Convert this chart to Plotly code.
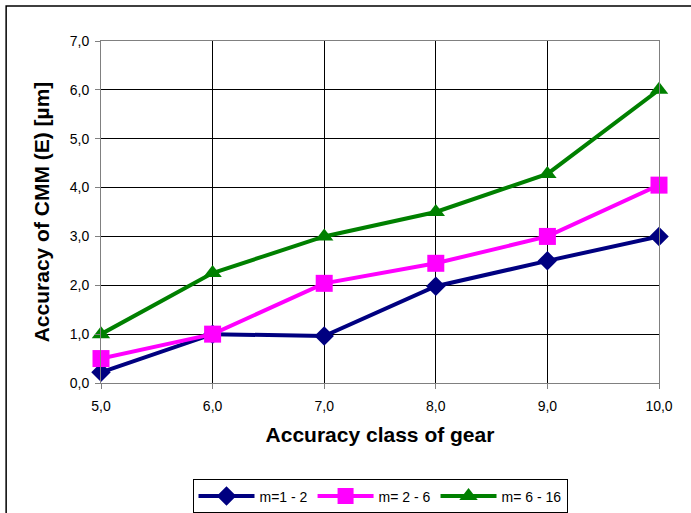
import plotly.graph_objects as go

classes = [5, 6, 7, 8, 9, 10]
m1_2 = [0.22, 1.0, 0.96, 1.98, 2.5, 3.0]
m2_6 = [0.5, 1.0, 2.04, 2.45, 3.0, 4.05]
m6_16 = [1.0, 2.25, 3.0, 3.5, 4.28, 6.0]

names = ["m=1 - 2", "m= 2 - 6", "m= 6 - 16"]
colors = ["#000080", "#FF00FF", "#008000"]
symbols = ["diamond", "square", "triangle-up"]
sizes = [15, 17, 16]

fig = go.Figure()
for ys, n, c, s, sz in zip([m1_2, m2_6, m6_16], names, colors, symbols, sizes):
    fig.add_trace(go.Scatter(x=classes, y=ys, name=n, mode="lines+markers",
                             line=dict(color=c, width=4), cliponaxis=False,
                             marker=dict(symbol=s, size=sz, color=c)))

font = "Liberation Sans, Arial, sans-serif"
fig.update_layout(
    width=691, height=513,
    margin=dict(l=101, r=32, t=41, b=130, autoexpand=False),
    paper_bgcolor="white", plot_bgcolor="white",
    separators=", ",
    font=dict(family=font, size=14, color="black"),
    showlegend=True,
    legend=dict(orientation="h", x=0.5, xanchor="center", y=-0.282, yanchor="top",
                bordercolor="black", borderwidth=1, font=dict(size=14),
                itemwidth=56, tracegroupgap=0),
    xaxis=dict(range=[5, 10], tickvals=classes, tickformat=".1f",
               showgrid=True, gridcolor="black", gridwidth=1,
               showline=True, linecolor="#808080", mirror=True,
               ticks="outside", ticklen=5, tickcolor="#808080",
               ticklabelstandoff=5, zeroline=False,
               title=dict(text="<b>Accuracy class of gear</b>", font=dict(size=21), standoff=14)),
    yaxis=dict(range=[0, 7], dtick=1, tickformat=".1f",
               showgrid=True, gridcolor="black", gridwidth=1,
               showline=True, linecolor="#808080", mirror=True,
               ticks="outside", ticklen=5, tickcolor="#808080",
               ticklabelstandoff=3, zeroline=False,
               title=dict(text="<b>Accuracy of CMM (E) [µm]</b>", font=dict(size=21), standoff=14)),
)
fig.add_shape(type="rect", xref="paper", yref="paper",
              x0=-0.170, x1=1.2, y0=-0.6, y1=1.102,
              line=dict(color="black", width=1.5), fillcolor="rgba(0,0,0,0)", layer="below")
fig.write_html("out.html", config={"displayModeBar": False},
               post_script="document.body.style.margin='0';document.body.style.padding='0';")
